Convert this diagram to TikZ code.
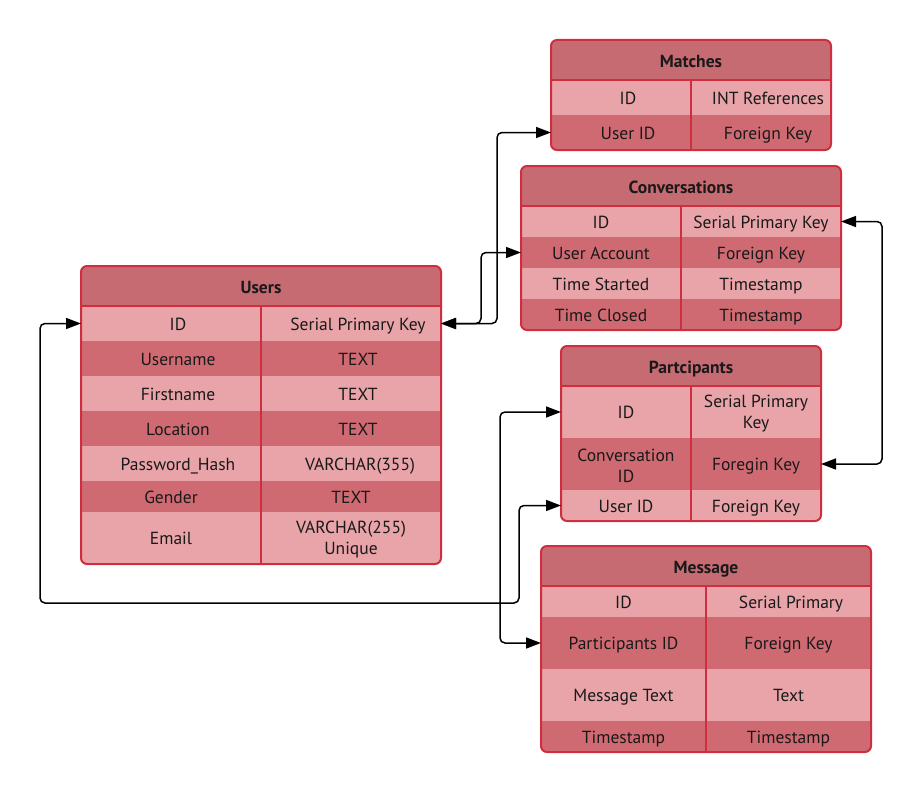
\documentclass[tikz,border=0pt]{standalone}
\usepackage{fontspec}
\setmainfont{PT Sans}
\usetikzlibrary{arrows.meta}
\definecolor{hdr}{HTML}{C76B73}
\definecolor{lite}{HTML}{E8A4A8}
\definecolor{dark}{HTML}{D06A72}
\definecolor{bord}{HTML}{CF2E3E}
\tikzset{
  conn/.style={line width=1.5pt, rounded corners=5pt,
    {Triangle[length=15pt,width=11pt]}-{Triangle[length=15pt,width=11pt]}},
  mcell/.style={font=\fontsize{17.5}{21}\selectfont, align=center, inner sep=0pt, text=black!90},
  cell/.style={mcell, text height=15pt, text depth=2pt},
  hcell/.style={cell, font=\fontsize{17.5}{21}\selectfont\bfseries},
  band/.style={draw=none, inner sep=0pt, outer sep=0pt, anchor=north west},
  hband/.style={band, fill=hdr},
  lband/.style={band, fill=lite},
  dband/.style={band, fill=dark},
  frame/.style={draw=bord, line width=2pt, rounded corners=6pt},
  sep/.style={draw=bord, line width=2pt},
  colsep/.style={draw=bord, line width=1.5pt},
}
\begin{document}
\begin{tikzpicture}[x=1pt,y=-1pt]
\useasboundingbox (0,0) rectangle (922,792);

% ================= Users =================
\begin{scope}
\clip[rounded corners=6pt] (81,266) rectangle (441,564);
\node[hband, minimum width=360pt, minimum height=40pt] (usersH) at (81,266) {};
\node[lband, minimum width=360pt, minimum height=35pt] (uid) at (81,306) {};
\node[dband, minimum width=360pt, minimum height=35pt] (uname) at (81,341) {};
\node[lband, minimum width=360pt, minimum height=35pt] (ufirst) at (81,376) {};
\node[dband, minimum width=360pt, minimum height=35pt] (uloc) at (81,411) {};
\node[lband, minimum width=360pt, minimum height=35pt] (upass) at (81,446) {};
\node[dband, minimum width=360pt, minimum height=31pt] (ugender) at (81,481) {};
\node[lband, minimum width=360pt, minimum height=52pt] (uemail) at (81,512) {};
\end{scope}
\draw[frame] (81,266) rectangle (441,564);
\draw[sep] (81,306) -- (441,306);
\draw[colsep] (261,306) -- (261,564);
\node[hcell] (usersT) at (261,287) {Users};
\node[cell] (u1a) at (178,324) {ID};
\node[cell] (u1b) at (358,324) {Serial Primary Key};
\node[cell] (u2a) at (178,359) {Username};
\node[cell] (u2b) at (358,359) {TEXT};
\node[cell] (u3a) at (178,394) {Firstname};
\node[cell] (u3b) at (358,394) {TEXT};
\node[cell] (u4a) at (178,429) {Location};
\node[cell] (u4b) at (358,429) {TEXT};
\node[cell] (u5a) at (178,464) {Password\_Hash};
\node[cell] (u5b) at (360,464) {VARCHAR(355)};
\node[cell] (u6a) at (171,496.5) {Gender};
\node[cell] (u6b) at (351,496.5) {TEXT};
\node[cell] (u7a) at (171,538) {Email};
\node[mcell] (u7b) at (351,540) {VARCHAR(255)\\Unique};

% ================= Matches =================
\begin{scope}
\clip[rounded corners=6pt] (551,40) rectangle (831,150);
\node[hband, minimum width=280pt, minimum height=40pt] (matchH) at (551,40) {};
\node[lband, minimum width=280pt, minimum height=35pt] (mid) at (551,80) {};
\node[dband, minimum width=280pt, minimum height=35pt] (muser) at (551,115) {};
\end{scope}
\draw[frame] (551,40) rectangle (831,150);
\draw[sep] (551,80) -- (831,80);
\draw[colsep] (691,80) -- (691,150);
\node[hcell] (matchT) at (691,61) {Matches};
\node[cell] (m1a) at (628,98) {ID};
\node[cell] (m1b) at (768,98) {INT References};
\node[cell] (m2a) at (628,133) {User ID};
\node[cell] (m2b) at (768,133) {Foreign Key};

% ================= Conversations =================
\begin{scope}
\clip[rounded corners=6pt] (521,166) rectangle (841,330);
\node[hband, minimum width=320pt, minimum height=40pt] (convH) at (521,166) {};
\node[lband, minimum width=320pt, minimum height=31pt] (cid) at (521,206) {};
\node[dband, minimum width=320pt, minimum height=31pt] (cuser) at (521,237) {};
\node[lband, minimum width=320pt, minimum height=31pt] (cstart) at (521,268) {};
\node[dband, minimum width=320pt, minimum height=31pt] (cclose) at (521,299) {};
\end{scope}
\draw[frame] (521,166) rectangle (841,330);
\draw[sep] (521,206) -- (841,206);
\draw[colsep] (681,206) -- (681,330);
\node[hcell] (convT) at (681,186.5) {Conversations};
\node[cell] (c1a) at (601,221.5) {ID};
\node[cell] (c1b) at (761,221.5) {Serial Primary Key};
\node[cell] (c2a) at (601,252.5) {User Account};
\node[cell] (c2b) at (761,252.5) {Foreign Key};
\node[cell] (c3a) at (601,283.5) {Time Started};
\node[cell] (c3b) at (761,283.5) {Timestamp};
\node[cell] (c4a) at (601,314.5) {Time Closed};
\node[cell] (c4b) at (761,314.5) {Timestamp};

% ================= Partcipants =================
\begin{scope}
\clip[rounded corners=6pt] (561,346) rectangle (821,521);
\node[hband, minimum width=260pt, minimum height=40pt] (partH) at (561,346) {};
\node[lband, minimum width=260pt, minimum height=52pt] (pid) at (561,386) {};
\node[dband, minimum width=260pt, minimum height=52pt] (pconv) at (561,438) {};
\node[lband, minimum width=260pt, minimum height=31pt] (puser) at (561,490) {};
\end{scope}
\draw[frame] (561,346) rectangle (821,521);
\draw[sep] (561,386) -- (821,386);
\draw[colsep] (691,386) -- (691,521);
\node[hcell] (partT) at (691,366.5) {Partcipants};
\node[cell] (p1a) at (626,412) {ID};
\node[mcell] (p1b) at (756,414) {Serial Primary\\Key};
\node[mcell] (p2a) at (626,466) {Conversation\\ID};
\node[cell] (p2b) at (756,464) {Foregin Key};
\node[cell] (p3a) at (626,505.5) {User ID};
\node[cell] (p3b) at (756,505.5) {Foreign Key};

% ================= Message =================
\begin{scope}
\clip[rounded corners=6pt] (541,546) rectangle (871,752);
\node[hband, minimum width=330pt, minimum height=40pt] (msgH) at (541,546) {};
\node[lband, minimum width=330pt, minimum height=31pt] (mgid) at (541,586) {};
\node[dband, minimum width=330pt, minimum height=52pt] (mgpid) at (541,617) {};
\node[lband, minimum width=330pt, minimum height=52pt] (mgtext) at (541,669) {};
\node[dband, minimum width=330pt, minimum height=31pt] (mgts) at (541,721) {};
\end{scope}
\draw[frame] (541,546) rectangle (871,752);
\draw[sep] (541,586) -- (871,586);
\draw[colsep] (706,586) -- (706,752);
\node[hcell] (msgT) at (706,566.5) {Message};
\node[cell] (g1a) at (623.5,601.5) {ID};
\node[cell] (g1b) at (791,601.5) {Serial Primary};
\node[cell] (g2a) at (623.5,643) {Participants ID};
\node[cell] (g2b) at (788.5,643) {Foreign Key};
\node[cell] (g3a) at (623.5,695) {Message Text};
\node[cell] (g3b) at (788.5,695) {Text};
\node[cell] (g4a) at (623.5,736.5) {Timestamp};
\node[cell] (g4b) at (788.5,736.5) {Timestamp};

% ================= Connectors =================
\draw[conn] (uid.east) -- ++(56,0) |- (muser.west);
\draw[conn] (uid.east) -- ++(40,0) |- (cuser.west);
\draw[conn] (cid.east) -- ++(41,0) |- (pconv.east);
\draw[conn] (uid.west) -- ++(-41,0) |- ++(479,279.5) |- (puser.west);
\draw[conn] (pid.west) -- ++(-61,0) |- (mgpid.west);
\end{tikzpicture}
\end{document}
